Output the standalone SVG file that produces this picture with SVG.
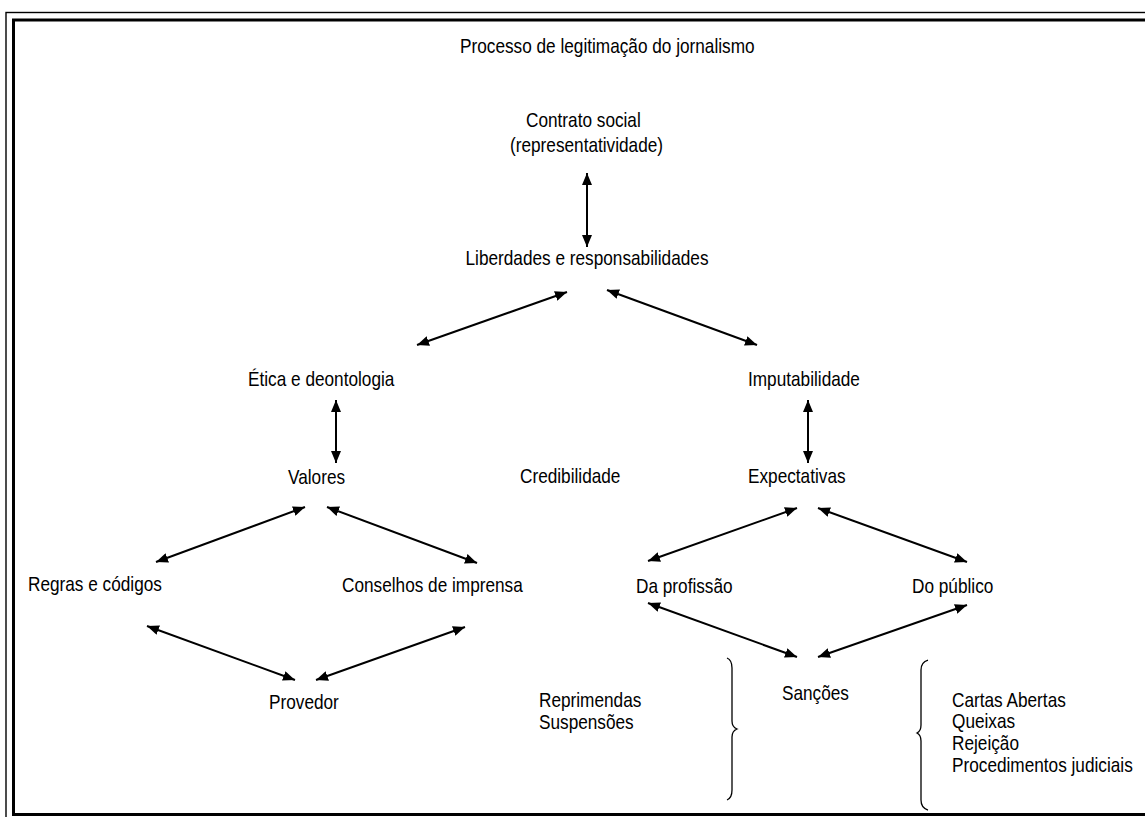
<svg xmlns="http://www.w3.org/2000/svg" width="1145" height="817" viewBox="0 0 1145 817">
<defs>
<marker id="ah" viewBox="0 0 12 10" refX="12" refY="5" markerWidth="12" markerHeight="10" markerUnits="userSpaceOnUse" orient="auto-start-reverse">
<path d="M0,0 L12,5 L0,10 z" fill="#000"/>
</marker>
<style>
text{font-family:"Liberation Sans",Arial,sans-serif;font-size:21px;fill:#000}
.c line{stroke:#000;stroke-width:2;marker-start:url(#ah);marker-end:url(#ah)}
.brace{fill:none;stroke:#000;stroke-width:1.3}
</style>
</defs>
<rect width="1145" height="817" fill="#fff"/>
<g id="frame" fill="none" stroke="#000">
<rect x="6" y="12.5" width="1160" height="830" stroke-width="1.4"/>
<rect x="13.5" y="20" width="1150" height="794.5" stroke-width="3"/>
</g>
<text id="title" transform="translate(460,53) scale(0.82,1)">Processo de legitimação do jornalismo</text>
<g id="contrato">
<text transform="translate(526,127) scale(0.82,1)">Contrato social</text>
<text transform="translate(510,152) scale(0.82,1)">(representatividade)</text>
</g>
<g id="liberdades"><text transform="translate(587,265) scale(0.82,1)" text-anchor="middle">Liberdades e responsabilidades</text></g>
<g id="etica"><text transform="translate(248,386) scale(0.82,1)">Ética e deontologia</text></g>
<g id="imputabilidade"><text transform="translate(748,386) scale(0.82,1)">Imputabilidade</text></g>
<g id="valores"><text transform="translate(288,484) scale(0.82,1)">Valores</text></g>
<g id="credibilidade"><text transform="translate(520,483) scale(0.82,1)">Credibilidade</text></g>
<g id="expectativas"><text transform="translate(748,483) scale(0.82,1)">Expectativas</text></g>
<g id="regras"><text transform="translate(28,591) scale(0.82,1)">Regras e códigos</text></g>
<g id="conselhos"><text transform="translate(342,592) scale(0.82,1)">Conselhos de imprensa</text></g>
<g id="profissao"><text transform="translate(636,593) scale(0.82,1)">Da profissão</text></g>
<g id="publico"><text transform="translate(912,593) scale(0.82,1)">Do público</text></g>
<g id="provedor"><text transform="translate(269,709) scale(0.82,1)">Provedor</text></g>
<g id="sancoes"><text transform="translate(782,700) scale(0.82,1)">Sanções</text></g>
<g id="sancoes-profissao">
<text transform="translate(539,707) scale(0.82,1)">Reprimendas</text>
<text transform="translate(539,729) scale(0.82,1)">Suspensões</text>
</g>
<g id="sancoes-publico">
<text transform="translate(952,707) scale(0.82,1)">Cartas Abertas</text>
<text transform="translate(952,728) scale(0.82,1)">Queixas</text>
<text transform="translate(952,750) scale(0.82,1)">Rejeição</text>
<text transform="translate(952,772) scale(0.82,1)">Procedimentos judiciais</text>
</g>
<g id="braces">
<path class="brace" d="M727,658 Q732,660 732,668 L732,721 Q732,727 737,729 Q732,731 732,737 L732,790 Q732,798 727,800"/>
<path class="brace" d="M928,660 Q921,662 921,670 L921,725 Q921,731 917,733 Q921,735 921,741 L921,800 Q921,808 928,810"/>
</g>
<g id="connectors" class="c">
<line x1="587" y1="173" x2="587" y2="247"/>
<line x1="567" y1="292" x2="417" y2="345"/>
<line x1="607" y1="290" x2="757" y2="345"/>
<line x1="336" y1="400" x2="336" y2="463"/>
<line x1="808" y1="400" x2="808" y2="463"/>
<line x1="305" y1="507" x2="156" y2="562"/>
<line x1="327" y1="507" x2="477" y2="563"/>
<line x1="147" y1="626" x2="295" y2="680"/>
<line x1="465" y1="627" x2="316" y2="680"/>
<line x1="797" y1="508" x2="648" y2="561"/>
<line x1="818" y1="508" x2="967" y2="562"/>
<line x1="648" y1="603" x2="797" y2="657"/>
<line x1="967" y1="605" x2="818" y2="657"/>
</g>
</svg>
